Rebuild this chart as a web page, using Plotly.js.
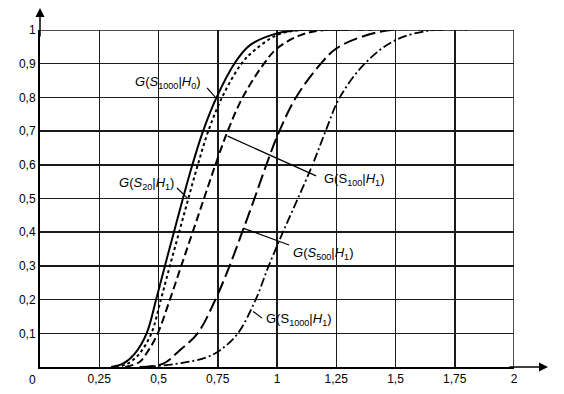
<!DOCTYPE html>
<html>
<head>
<meta charset="utf-8">
<script src="https://cdn.plot.ly/plotly-3.0.1.min.js"></script>
<style>html,body{margin:0;padding:0;background:#fff;}</style>
</head>
<body>
<div id="chart" style="width:564px;height:394px;"></div>
<script>
// Data
const xTickVals = [0.25, 0.5, 0.75, 1, 1.25, 1.5, 1.75, 2];
const xTickText = ["0,25", "0,5", "0,75", "1", "1,25", "1,5", "1,75", "2"];
const yTickVals = [0.1, 0.2, 0.3, 0.4, 0.5, 0.6, 0.7, 0.8, 0.9, 1];
const yTickText = ["0,1", "0,2", "0,3", "0,4", "0,5", "0,6", "0,7", "0,8", "0,9", "1"];

const s1000H0_x = [0.30, 0.35, 0.40, 0.45, 0.49, 0.527, 0.565, 0.603, 0.643, 0.688, 0.745, 0.82, 0.886, 1.00, 1.10, 1.30];
const s1000H0_y = [0, 0.01, 0.04, 0.1, 0.2, 0.3, 0.4, 0.5, 0.6, 0.7, 0.8, 0.9, 0.955, 0.99, 1.0, 1.0];

const s20H1_x = [0.32, 0.37, 0.42, 0.47, 0.51, 0.548, 0.587, 0.626, 0.666, 0.71, 0.768, 0.85, 0.905, 1.00, 1.10, 1.30];
const s20H1_y = [0, 0.01, 0.04, 0.1, 0.2, 0.3, 0.4, 0.5, 0.6, 0.7, 0.8, 0.9, 0.94, 0.985, 1.0, 1.0];

const s100H1_x = [0.36, 0.42, 0.458, 0.497, 0.548, 0.596, 0.644, 0.692, 0.74, 0.792, 0.855, 0.945, 1.00, 1.10, 1.20, 1.40];
const s100H1_y = [0, 0.015, 0.05, 0.1, 0.2, 0.3, 0.4, 0.5, 0.6, 0.7, 0.8, 0.9, 0.945, 0.985, 1.0, 1.0];

const s500H1_x = [0.42, 0.52, 0.59, 0.665, 0.74, 0.80, 0.853, 0.905, 0.955, 1.01, 1.08, 1.185, 1.25, 1.35, 1.48, 1.70];
const s500H1_y = [0, 0.01, 0.05, 0.1, 0.2, 0.3, 0.4, 0.5, 0.6, 0.7, 0.8, 0.9, 0.945, 0.978, 1.0, 1.0];

const s1000H1_x = [0.45, 0.60, 0.70, 0.76, 0.835, 0.91, 0.965, 1.025, 1.088, 1.15, 1.205, 1.265, 1.37, 1.50, 1.66, 1.80];
const s1000H1_y = [0, 0.012, 0.028, 0.05, 0.1, 0.2, 0.3, 0.4, 0.5, 0.6, 0.7, 0.8, 0.9, 0.97, 1.0, 1.0];

const labelTexts = [
  "<i>G</i>(<i>S</i><sub>1000</sub>|<i>H</i><sub>0</sub>)",
  "<i>G</i>(<i>S</i><sub>20</sub>|<i>H</i><sub>1</sub>)",
  "G(S<sub>100</sub>|<i>H</i><sub>1</sub>)",
  "<i>G</i>(<i>S</i><sub>500</sub>|<i>H</i><sub>1</sub>)",
  "G(S<sub>1000</sub>|<i>H</i><sub>1</sub>)"
];
const labelX = [0.540, 0.449, 1.325, 1.196, 1.091];
const labelY = [0.843, 0.546, 0.555, 0.338, 0.142];
// leader lines: [x0, y0, x1, y1]
const leaders = [
  [0.705, 0.828, 0.743, 0.798],
  [0.578, 0.531, 0.622, 0.501],
  [0.792, 0.685, 1.165, 0.567],
  [0.857, 0.412, 1.051, 0.362],
  [0.899, 0.165, 0.937, 0.145]
];

const FONT = "Liberation Sans, Arial, sans-serif";

function curve(x, y, dash, width) {
  return {
    x: x, y: y, type: "scatter", mode: "lines",
    line: {color: "#000", width: width, dash: dash, shape: "spline", smoothing: 1},
    hoverinfo: "skip", showlegend: false, cliponaxis: true
  };
}

const traces = [
  curve(s1000H0_x, s1000H0_y, "solid", 2),
  curve(s20H1_x, s20H1_y, "dot", 2),
  curve(s100H1_x, s100H1_y, "8px,4px", 2),
  curve(s500H1_x, s500H1_y, "14px,5px", 2),
  curve(s1000H1_x, s1000H1_y, "9px,3px,2px,3px", 1.8)
];

const annotations = labelTexts.map((t, i) => ({
  x: labelX[i], y: labelY[i], xref: "x", yref: "y",
  text: t, showarrow: false, font: {family: FONT, size: 13, color: "#000"},
  xanchor: "center", yanchor: "middle"
}));
annotations.push({
  x: 0, y: 0, xref: "paper", yref: "paper", text: "0", showarrow: false,
  xanchor: "right", yanchor: "top", xshift: -2, yshift: -4,
  font: {family: FONT, size: 12, color: "#000"}
});
// axis arrows
annotations.push({
  x: 1.0717, y: 0, xref: "paper", yref: "paper", text: "", showarrow: true,
  ax: -40, ay: 0, arrowhead: 2, arrowsize: 1.2, arrowwidth: 1.5, arrowcolor: "#000"
});
annotations.push({
  x: 0, y: 1.0653, xref: "paper", yref: "paper", text: "", showarrow: true,
  ax: 0, ay: 30, arrowhead: 2, arrowsize: 1.2, arrowwidth: 1.5, arrowcolor: "#000"
});

const shapes = leaders.map(l => ({
  type: "line", xref: "x", yref: "y", x0: l[0], y0: l[1], x1: l[2], y1: l[3],
  line: {color: "#000", width: 1.2}
}));
shapes.push({type: "line", xref: "x", yref: "paper", x0: 2, x1: 2, y0: 0, y1: 1, line: {color: "#111", width: 1.5}});
shapes.push({type: "line", xref: "paper", yref: "y", x0: 0, x1: 1, y0: 1, y1: 1, line: {color: "#111", width: 1.5}});

const layout = {
  width: 564, height: 394,
  margin: {l: 40, r: 50, t: 30, b: 27, pad: 0},
  paper_bgcolor: "#fff", plot_bgcolor: "#fff",
  font: {family: FONT, size: 12, color: "#000"},
  showlegend: false,
  xaxis: {
    range: [0, 2], tickvals: xTickVals, ticktext: xTickText,
    showgrid: true, gridcolor: "#1a1a1a", gridwidth: 1.5,
    zeroline: false, showline: true, linecolor: "#000", linewidth: 2,
    ticks: "", tickfont: {family: FONT, size: 12, color: "#000"}, fixedrange: true
  },
  yaxis: {
    range: [0, 1], tickvals: yTickVals, ticktext: yTickText,
    showgrid: true, gridcolor: "#1a1a1a", gridwidth: 1.5,
    zeroline: false, showline: true, linecolor: "#000", linewidth: 2,
    ticks: "", tickfont: {family: FONT, size: 12, color: "#000"}, fixedrange: true
  },
  annotations: annotations,
  shapes: shapes
};

Plotly.newPlot("chart", traces, layout, {staticPlot: true, displayModeBar: false});
</script>
</body>
</html>
